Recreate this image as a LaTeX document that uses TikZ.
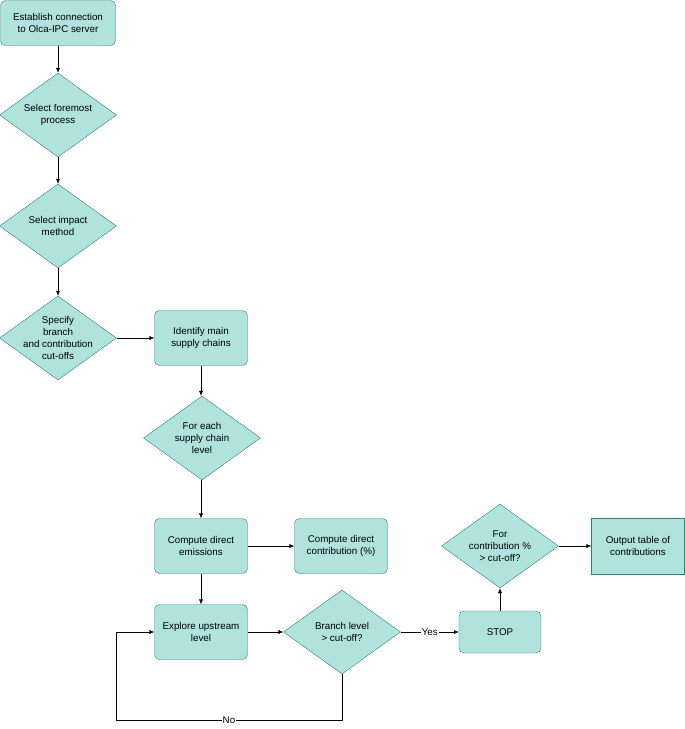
\documentclass[tikz,border=0pt]{standalone}
\usepackage{fontspec}
\setmainfont{Liberation Sans}
\usetikzlibrary{shapes.geometric,arrows.meta}
\definecolor{fillc}{HTML}{B0E3DD}
\definecolor{linec}{HTML}{2F7F76}
\begin{document}
\begin{tikzpicture}[x=1pt,y=-1pt,
  every node/.style={font=\fontsize{9.8}{12}\selectfont,align=center},
  box/.style={draw=linec,fill=fillc,rounded corners=5pt,minimum width=93pt,minimum height=55pt,inner sep=2pt},
  dia/.style={draw=linec,fill=fillc,diamond,aspect=1.4,minimum width=117pt,minimum height=84pt,inner sep=0pt},
  arr/.style={-{Latex[length=5pt,width=4pt]},black}]
\useasboundingbox (0,0) rectangle (685,729);
\node[box,minimum width=115pt,minimum height=45pt] (a) at (58,23) {Establish connection\\to Olca-IPC server};
\node[dia] (b) at (58,115) {Select foremost\\process};
\node[dia] (c) at (58,226) {Select impact\\method};
\node[dia,inner sep=-6pt] (d) at (58,338) {Specify\\branch\\and contribution\\cut-offs};
\node[box] (e) at (201,338) {Identify main\\supply chains};
\node[dia] (f) at (202,438) {For each\\supply chain\\level};
\node[box] (g) at (201,546) {Compute direct\\emissions};
\node[box] (h) at (341,546) {Compute direct\\contribution (\%)};
\node[box] (i) at (201,632) {Explore upstream\\level};
\node[dia] (j) at (342,632) {Branch level\\> cut-off?};
\node[box,minimum width=82pt,minimum height=42pt] (k) at (500,632) {STOP};
\node[dia] (l) at (500,546) {For\\contribution \%\\> cut-off?};
\node[box,rounded corners=0pt,minimum height=56pt] (m) at (638,546) {Output table of\\contributions};
\coordinate (p1) at (342,720);
\coordinate (p2) at (116,720);
\coordinate (p3) at (116,632);
\draw[arr] (a) -- (b);
\draw[arr] (b) -- (c);
\draw[arr] (c) -- (d);
\draw[arr] (d) -- (e);
\draw[arr] (e) -- (e|-f.north);
\draw[arr] (f.south-|g) -- (g);
\draw[arr] (g) -- (h);
\draw[arr] (g) -- (i);
\draw[arr] (i) -- (j);
\draw[arr] (j) -- node[fill=white,inner sep=1pt]{Yes} (k);
\draw[arr] (k) -- (l);
\draw[arr] (l) -- (m);
\draw[arr] (j.south) -- (p1) -- node[fill=white,inner sep=1pt]{No} (p2) -- (p3) -- (i);
\end{tikzpicture}
\end{document}
